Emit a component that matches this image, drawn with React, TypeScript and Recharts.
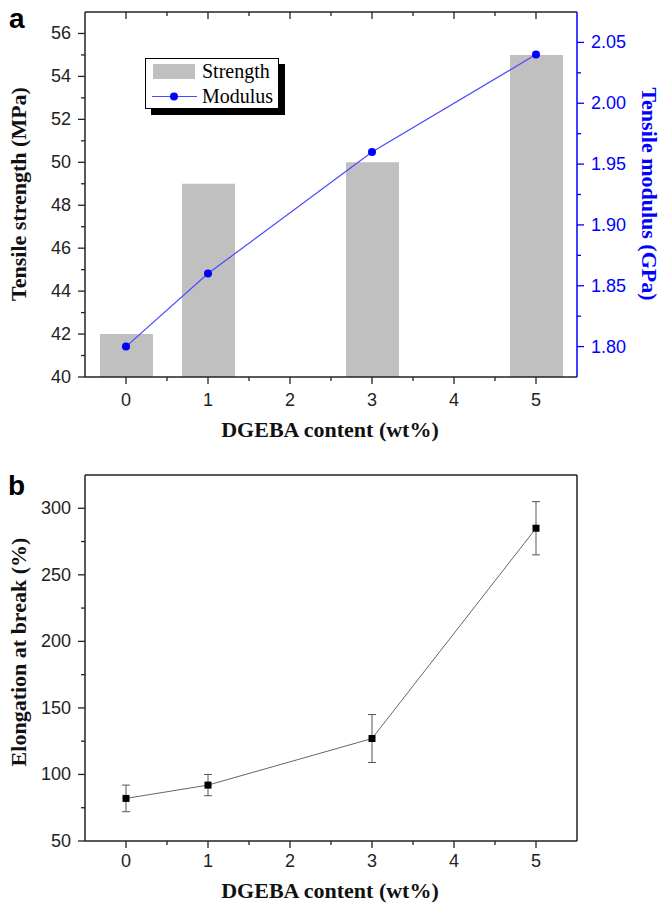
import React from 'react';
import { ComposedChart, Bar, Line, XAxis, YAxis, ErrorBar, Legend } from 'recharts';

// ---- data ----
const contents = [0, 1, 3, 5];
const strength = [42, 49, 50, 55];
const modulus = [1.8, 1.86, 1.96, 2.04];
const elongation = [82, 92, 127, 285];
const elongationErr = [10, 8, 18, 20];

const xTicks = [0, 0.5, 1, 1.5, 2, 2.5, 3, 3.5, 4, 4.5, 5];
const strengthTicks = [40, 41, 42, 43, 44, 45, 46, 47, 48, 49, 50, 51, 52, 53, 54, 55, 56];
const modulusTicks = [1.8, 1.825, 1.85, 1.875, 1.9, 1.925, 1.95, 1.975, 2.0, 2.025, 2.05];
const elongationTicks = [50, 75, 100, 125, 150, 175, 200, 225, 250, 275, 300];

const topData = contents.map((c, i) => ({ x: c, strength: strength[i], modulus: modulus[i] }));
const bottomData = contents.map((c, i) => ({ x: c, y: elongation[i], err: elongationErr[i] }));

const AXIS = '#222';
const BLUE = '#0000ff';
const SANS = '"Liberation Sans", Arial, sans-serif';
const SERIF = '"Liberation Serif", "Times New Roman", serif';

const isInt = (v: number) => Math.abs(v - Math.round(v)) < 1e-6;

const makeBottomTick = (labelOffset: number) => (props: any) => {
  const { x, y, payload } = props;
  const major = isInt(payload.value);
  return (
    <g>
      <line x1={x} x2={x} y1={y} y2={y + (major ? 7 : 4)} stroke={AXIS} strokeWidth={1.3} />
      {major && (
        <text x={x} y={y + labelOffset} textAnchor="middle" dominantBaseline="central" fontFamily={SANS} fontSize={18} fill={AXIS}>
          {payload.value}
        </text>
      )}
    </g>
  );
};
const BottomTickA = makeBottomTick(23);
const BottomTickB = makeBottomTick(20);

const TopTick = (props: any) => {
  const { x, y, payload } = props;
  const major = isInt(payload.value);
  return <line x1={x} x2={x} y1={y} y2={y + (major ? 7 : 4)} stroke={AXIS} strokeWidth={1.3} />;
};

const makeLeftTick = (isMajor: (v: number) => boolean) => (props: any) => {
  const { x, y, payload } = props;
  const major = isMajor(payload.value);
  return (
    <g>
      <line x1={x - (major ? 7 : 4)} x2={x} y1={y} y2={y} stroke={AXIS} strokeWidth={1.3} />
      {major && (
        <text x={x - 14} y={y} textAnchor="end" dominantBaseline="central" fontFamily={SANS} fontSize={18} fill={AXIS}>
          {payload.value}
        </text>
      )}
    </g>
  );
};

const StrengthTick = makeLeftTick((v) => v % 2 === 0);
const ElongTick = makeLeftTick((v) => v % 50 === 0);

const RightTick = (props: any) => {
  const { x, y, payload } = props;
  const major = isInt(payload.value * 20);
  return (
    <g>
      <line x1={x} x2={x + (major ? 7 : 4)} y1={y} y2={y} stroke={BLUE} strokeWidth={1.3} />
      {major && (
        <text x={x + 14} y={y} textAnchor="start" dominantBaseline="central" fontFamily={SANS} fontSize={18} fill={BLUE}>
          {Number(payload.value).toFixed(2)}
        </text>
      )}
    </g>
  );
};

const LegendBox = () => (
  <div style={{ width: 134, height: 51, position: 'relative' }}>
    <svg width={142} height={59} style={{ position: 'absolute', left: 0, top: 0, overflow: 'visible' }}>
      <rect x={6} y={6} width={134} height={51} fill="#000" />
      <rect x={0.5} y={0.5} width={133} height={50} fill="#fff" stroke="#000" strokeWidth={1} />
      <rect x={8} y={6} width={42} height={15} fill="#c0c0c0" />
      <text x={57} y={20} fontFamily={SERIF} fontSize={20} fill="#000">Strength</text>
      <line x1={7} x2={52} y1={38.5} y2={38.5} stroke="#4a4aff" strokeWidth={1.2} />
      <circle cx={29} cy={38.5} r={4} fill={BLUE} />
      <text x={57} y={45} fontFamily={SERIF} fontSize={20} fill="#000">Modulus</text>
    </svg>
  </div>
);

const Square = (props: any) => {
  const { cx, cy, index } = props;
  if (cx == null || cy == null) return <g key={index} />;
  return <rect key={index} x={cx - 3.5} y={cy - 3.5} width={7} height={7} fill="#000" />;
};

export default function App() {
  return (
    <div style={{ position: 'absolute', left: 0, top: 0, width: 660, height: 904, background: '#fff' }}>
      <div style={{ position: 'absolute', left: 0, top: 0 }}>
        <ComposedChart width={660} height={420} data={topData} margin={{ top: 2, right: 43, bottom: 13, left: 45 }}>
          <XAxis
            dataKey="x"
            type="number"
            domain={[-0.5, 5.5]}
            ticks={xTicks}
            interval={0}
            allowDataOverflow
            height={30}
            tickSize={0}
            tickMargin={0}
            tickLine={false}
            tick={<BottomTickA />}
            axisLine={{ stroke: AXIS, strokeWidth: 1.5 }}
          />
          <XAxis
            xAxisId="top"
            orientation="top"
            dataKey="x"
            type="number"
            domain={[-0.5, 5.5]}
            ticks={xTicks}
            interval={0}
            allowDataOverflow
            height={10}
            tickSize={0}
            tickMargin={0}
            tickLine={false}
            tick={<TopTick />}
            axisLine={{ stroke: AXIS, strokeWidth: 1.5 }}
          />
          <YAxis
            yAxisId="left"
            type="number"
            domain={[40, 57]}
            ticks={strengthTicks}
            interval={0}
            allowDataOverflow
            width={40}
            tickSize={0}
            tickMargin={0}
            tickLine={false}
            tick={<StrengthTick />}
            axisLine={{ stroke: AXIS, strokeWidth: 1.5 }}
          />
          <YAxis
            yAxisId="right"
            orientation="right"
            type="number"
            domain={[1.775, 2.075]}
            ticks={modulusTicks}
            interval={0}
            allowDataOverflow
            width={40}
            tickSize={0}
            tickMargin={0}
            tickLine={false}
            tick={<RightTick />}
            axisLine={{ stroke: BLUE, strokeWidth: 1.5 }}
          />
          <Bar yAxisId="left" dataKey="strength" fill="#c0c0c0" barSize={53} isAnimationActive={false} />
          <Line
            yAxisId="right"
            dataKey="modulus"
            stroke="#4a4aff"
            strokeWidth={1.2}
            dot={{ r: 4, fill: BLUE, stroke: BLUE, strokeWidth: 0 }}
            activeDot={false}
            isAnimationActive={false}
          />
          <Legend
            layout="horizontal"
            verticalAlign="middle"
            align="center"
            content={<LegendBox />}
            wrapperStyle={{ position: 'absolute', left: 145, top: 58, width: 134, height: 51 }}
          />
        </ComposedChart>
      </div>
      <div style={{ position: 'absolute', left: 0, top: 420 }}>
        <ComposedChart width={660} height={484} data={bottomData} margin={{ top: 45, right: 43, bottom: 33, left: 45 }}>
          <XAxis
            dataKey="x"
            type="number"
            domain={[-0.5, 5.5]}
            ticks={xTicks}
            interval={0}
            allowDataOverflow
            height={30}
            tickSize={0}
            tickMargin={0}
            tickLine={false}
            tick={<BottomTickB />}
            axisLine={{ stroke: AXIS, strokeWidth: 1.5 }}
          />
          <XAxis
            xAxisId="top"
            orientation="top"
            dataKey="x"
            type="number"
            domain={[-0.5, 5.5]}
            allowDataOverflow
            height={10}
            tick={false}
            tickLine={false}
            axisLine={{ stroke: AXIS, strokeWidth: 1.5 }}
          />
          <YAxis
            type="number"
            domain={[50, 325]}
            ticks={elongationTicks}
            interval={0}
            allowDataOverflow
            width={40}
            tickSize={0}
            tickMargin={0}
            tickLine={false}
            tick={<ElongTick />}
            axisLine={{ stroke: AXIS, strokeWidth: 1.5 }}
          />
          <YAxis
            yAxisId="right"
            orientation="right"
            type="number"
            domain={[50, 325]}
            allowDataOverflow
            width={40}
            tick={false}
            tickLine={false}
            axisLine={{ stroke: AXIS, strokeWidth: 1.5 }}
          />
          <Line
            dataKey="y"
            stroke="#666"
            strokeWidth={1}
            dot={<Square />}
            activeDot={false}
            isAnimationActive={false}
          >
            <ErrorBar dataKey="err" direction="y" width={4} stroke="#555" strokeWidth={1} />
          </Line>
        </ComposedChart>
      </div>
      <svg
        width={660}
        height={904}
        style={{ position: 'absolute', left: 0, top: 0, pointerEvents: 'none' }}
      >
        <text x={9} y={28} fontFamily={SANS} fontWeight="bold" fontSize={28} fill="#000">a</text>
        <text x={8} y={495} fontFamily={SANS} fontWeight="bold" fontSize={28} fill="#000">b</text>
        <text
          x={18}
          y={194}
          transform="rotate(-90, 18, 194)"
          textAnchor="middle"
          dominantBaseline="central"
          fontFamily={SERIF}
          fontWeight="bold"
          fontSize={22}
          fill="#111"
        >
          Tensile strength (MPa)
        </text>
        <text
          x={649}
          y={194}
          transform="rotate(90, 649, 194)"
          textAnchor="middle"
          dominantBaseline="central"
          fontFamily={SERIF}
          fontWeight="bold"
          fontSize={22}
          fill={BLUE}
        >
          Tensile modulus (GPa)
        </text>
        <text x={330} y={437} textAnchor="middle" fontFamily={SERIF} fontWeight="bold" fontSize={22} fill="#111">
          DGEBA content (wt%)
        </text>
        <text
          x={18}
          y={652}
          transform="rotate(-90, 18, 652)"
          textAnchor="middle"
          dominantBaseline="central"
          fontFamily={SERIF}
          fontWeight="bold"
          fontSize={22}
          fill="#111"
        >
          Elongation at break (%)
        </text>
        <text x={330} y={898} textAnchor="middle" fontFamily={SERIF} fontWeight="bold" fontSize={22} fill="#111">
          DGEBA content (wt%)
        </text>
      </svg>
    </div>
  );
}
